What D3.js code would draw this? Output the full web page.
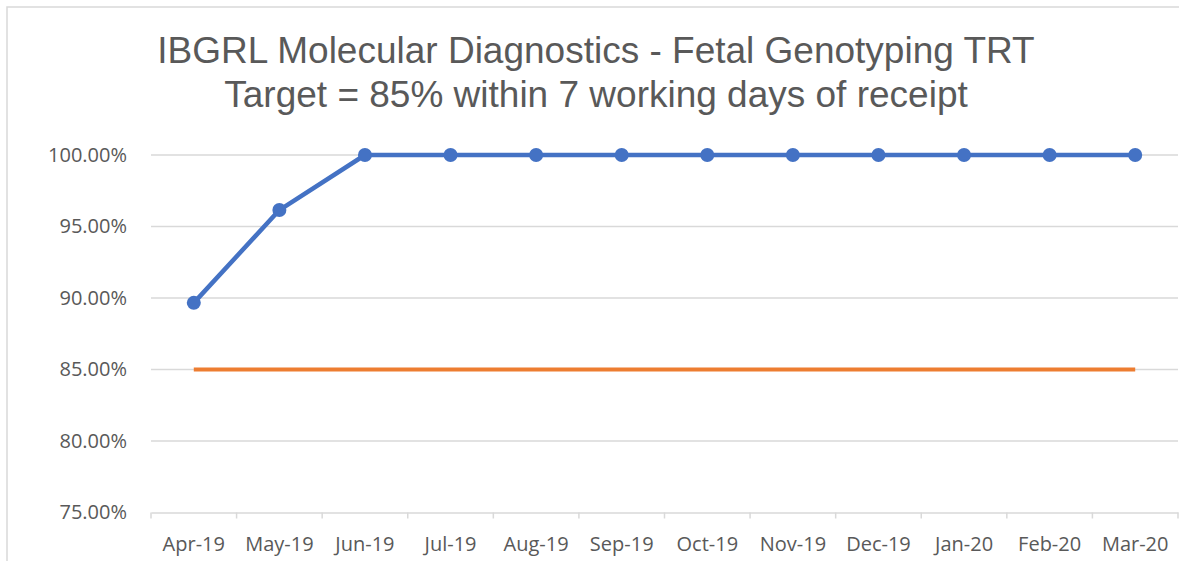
<!DOCTYPE html>
<html><head><meta charset="utf-8">
<script src="https://cdn.jsdelivr.net/npm/d3@7"></script>
<style>body{margin:0;background:#fff}svg{display:block}</style>
</head><body>
<script>
const categories = ["Apr-19","May-19","Jun-19","Jul-19","Aug-19","Sep-19","Oct-19","Nov-19","Dec-19","Jan-20","Feb-20","Mar-20"];
const actual = [0.8966,0.9615,1,1,1,1,1,1,1,1,1,1];
const target = [0.85,0.85,0.85,0.85,0.85,0.85,0.85,0.85,0.85,0.85,0.85,0.85];
const yTicks = [0.75,0.80,0.85,0.90,0.95,1.00];
const titleLines = ["IBGRL Molecular Diagnostics - Fetal Genotyping TRT","Target = 85% within 7 working days of receipt"];

(function(){
const W=1179,H=561;
const svg=d3.select("body").append("svg").attr("width",W).attr("height",H);
svg.append("rect").attr("x",7).attr("y",7).attr("width",W+10).attr("height",H+10)
  .attr("fill","#fff").attr("stroke","#d9d9d9").attr("stroke-width",1.5);

const pl=151,pr=1178,pt=155,pb=512.5;
const x=d3.scaleBand().domain(categories).range([pl,pr]);
const y=d3.scaleLinear().domain([0.75,1.0]).range([pb,pt]);

svg.append("g").selectAll("line").data(yTicks.slice(1)).join("line")
  .attr("x1",pl).attr("x2",pr).attr("y1",d=>y(d)).attr("y2",d=>y(d))
  .attr("stroke","#d9d9d9").attr("stroke-width",1.5);

const yAxis=d3.axisLeft(y).tickValues(yTicks).tickFormat(d3.format(".2%")).tickSize(0).tickPadding(24);
const gy=svg.append("g").attr("transform",`translate(${pl},0)`).call(yAxis);
gy.select(".domain").remove();
gy.selectAll("text").attr("font-family","'Open Sans', sans-serif").attr("font-size",20).attr("fill","#595959");

const xAxis=d3.axisBottom(x).tickSize(0).tickPadding(24);
const gx=svg.append("g").attr("transform",`translate(0,${pb})`).call(xAxis);
gx.select(".domain").attr("stroke","#d9d9d9").attr("stroke-width",1.5);
gx.selectAll("text").attr("font-family","'Open Sans', sans-serif").attr("font-size",20).attr("fill","#595959");
const bounds=categories.map(c=>x(c)).concat([x(categories[categories.length-1])+x.bandwidth()]);
svg.append("g").selectAll("line").data(bounds).join("line")
  .attr("x1",d=>d).attr("x2",d=>d).attr("y1",pb).attr("y2",pb+6)
  .attr("stroke","#d9d9d9").attr("stroke-width",1.5);

const cx=c=>x(c)+x.bandwidth()/2;
svg.append("path").datum(target).attr("fill","none").attr("stroke","#ED7D31").attr("stroke-width",4)
  .attr("d",d3.line().x((d,i)=>cx(categories[i])).y(d=>y(d)));
svg.append("path").datum(actual).attr("fill","none").attr("stroke","#4472C4").attr("stroke-width",4.5)
  .attr("stroke-linejoin","round")
  .attr("d",d3.line().x((d,i)=>cx(categories[i])).y(d=>y(d)));
svg.append("g").selectAll("circle").data(actual).join("circle")
  .attr("cx",(d,i)=>cx(categories[i])).attr("cy",d=>y(d)).attr("r",7).attr("fill","#4472C4");

svg.append("g").selectAll("text").data(titleLines).join("text")
  .attr("x",596).attr("y",(d,i)=>63+i*44).attr("text-anchor","middle")
  .attr("font-family","'Liberation Sans', Arial, sans-serif").attr("font-size",37).attr("fill","#595959")
  .text(d=>d);
})();
</script>
</body></html>
